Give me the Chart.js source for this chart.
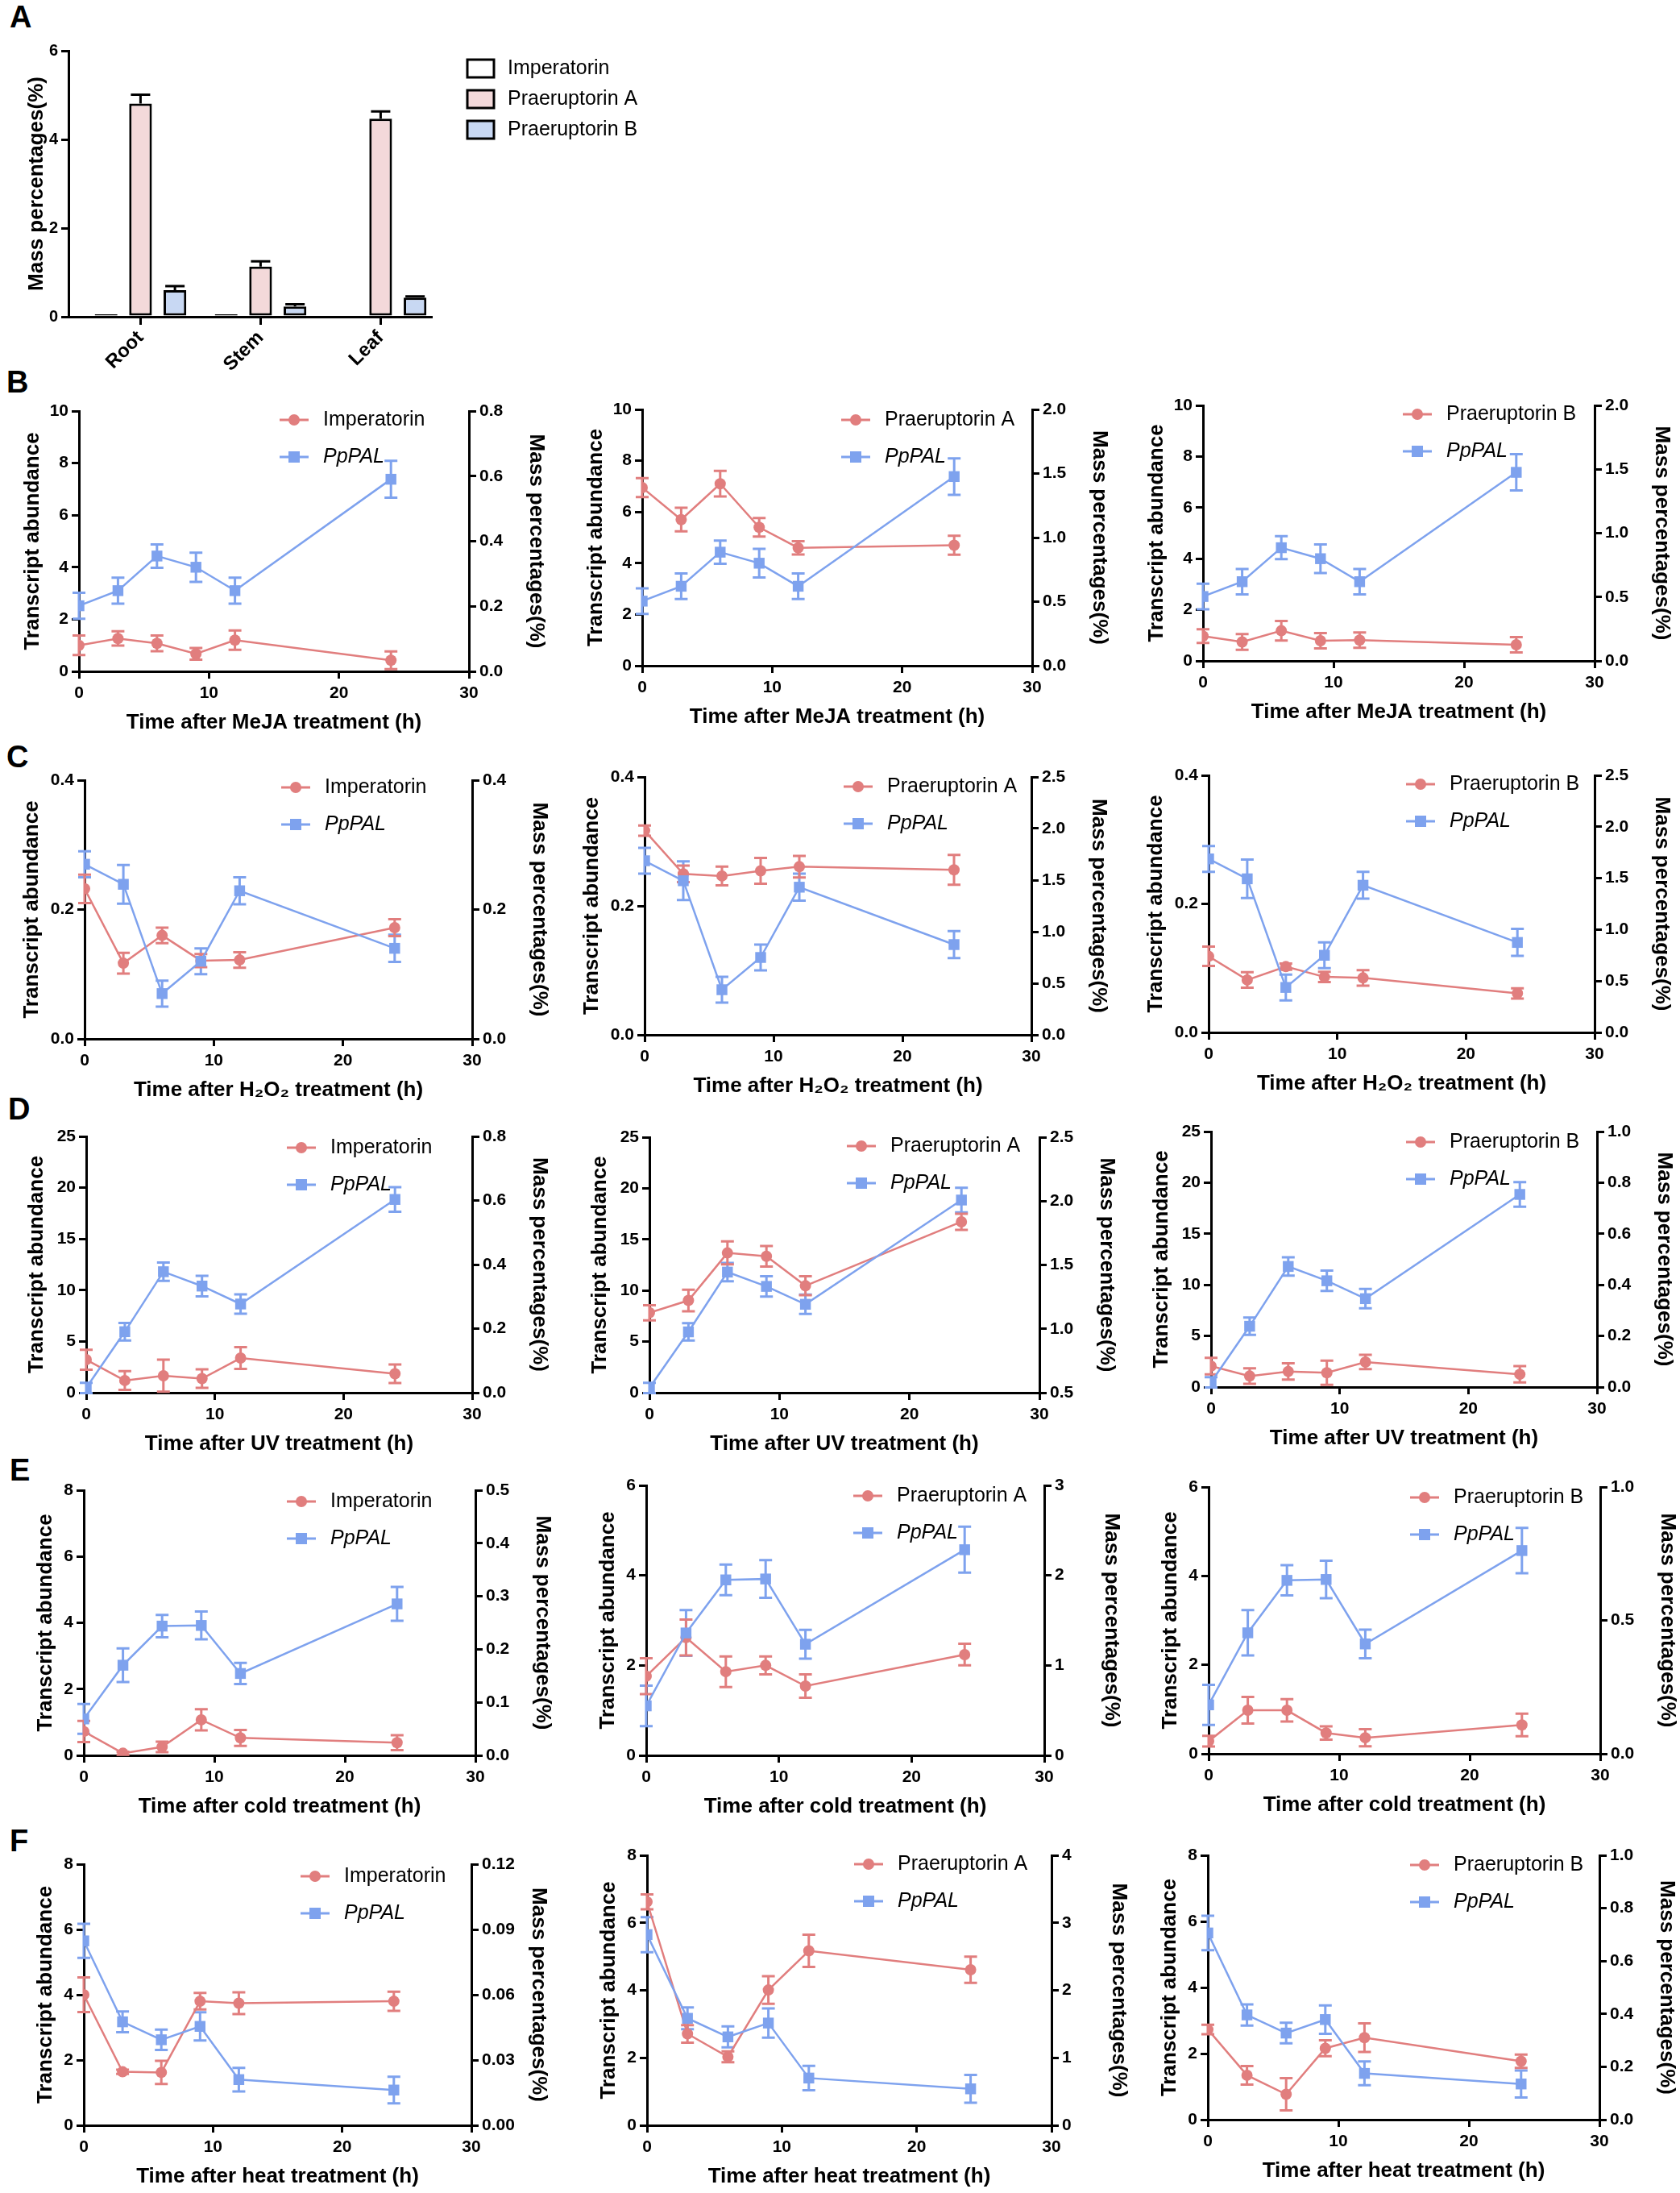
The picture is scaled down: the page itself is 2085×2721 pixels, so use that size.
<!DOCTYPE html>
<html lang="en">
<head>
<meta charset="UTF-8">
<title>Coumarin content and PpPAL expression</title>
<script src="https://cdn.jsdelivr.net/npm/chart.js"></script>
<style>
  body { margin: 0; background: #fff; }
  #page { position: relative; width: 2085px; height: 2721px; overflow: hidden; background: #fff; }
  .panel { position: absolute; }
  .tag { position: absolute; font: bold 38px "Liberation Sans", Arial, sans-serif; line-height: 1; color: #000; }
</style>
</head>
<body>
<div id="page">
  <div class="tag" style="left:12px; top:2px">A</div>
  <div class="tag" style="left:8px; top:455px">B</div>
  <div class="tag" style="left:8px; top:920px">C</div>
  <div class="tag" style="left:10px; top:1357px">D</div>
  <div class="tag" style="left:12px; top:1805px">E</div>
  <div class="tag" style="left:12px; top:2265px">F</div>
</div>

<script>
// ---- data ----
const tissues = ['Root', 'Stem', 'Leaf'];
const tissuePos = [1, 2, 3];   // group positions on the x axis
const impTissue = [0.03, 0.03, null];
const praATissue = [4.81, 1.13, 4.47];
const praBTissue = [0.60, 0.23, 0.43];
const impTissueErr = [0, 0, 0];
const praATissueErr = [0.20, 0.12, 0.16];
const praBTissueErr = [0.09, 0.05, 0.03];

// sampling times (h)
const hours = [0, 3, 6, 9, 12, 24];

// PpPAL transcript abundance (left axis)
const palMeJA = [2.52, 3.10, 4.43, 4.00, 3.10, 7.38];
const palMeJAErr = [0.50, 0.50, 0.45, 0.56, 0.50, 0.71];
const palH2O2 = [0.270, 0.239, 0.070, 0.120, 0.229, 0.140];
const palH2O2Err = [0.020, 0.030, 0.020, 0.020, 0.021, 0.021];
const palUV = [0.47, 5.95, 11.8, 10.4, 8.65, 18.85];
const palUVErr = [0.5, 0.85, 0.9, 1.0, 0.95, 1.2];
const palCold = [1.10, 2.72, 3.90, 3.92, 2.47, 4.57];
const palColdErr = [0.45, 0.51, 0.34, 0.42, 0.32, 0.51];
const palHeat = [5.65, 3.17, 2.62, 3.03, 1.40, 1.08];
const palHeatErr = [0.52, 0.32, 0.31, 0.43, 0.36, 0.41];

// mass percentages (right axis)
const impMeJA = [0.080, 0.101, 0.086, 0.054, 0.096, 0.034];
const impMeJAErr = [0.030, 0.022, 0.024, 0.018, 0.030, 0.027];
const praAMeJA = [1.39, 1.14, 1.42, 1.08, 0.92, 0.94];
const praAMeJAErr = [0.074, 0.092, 0.10, 0.072, 0.052, 0.074];
const praBMeJA = [0.194, 0.148, 0.236, 0.158, 0.162, 0.126];
const praBMeJAErr = [0.054, 0.062, 0.076, 0.06, 0.06, 0.06];

const impH2O2 = [0.232, 0.117, 0.160, 0.121, 0.122, 0.172];
const impH2O2Err = [0.022, 0.016, 0.012, 0.010, 0.012, 0.013];
const praAH2O2 = [1.98, 1.56, 1.54, 1.59, 1.63, 1.60];
const praAH2O2Err = [0.05, 0.08, 0.09, 0.125, 0.105, 0.144];
const praBH2O2 = [0.74, 0.51, 0.64, 0.54, 0.53, 0.38];
const praBH2O2Err = [0.094, 0.075, 0.03, 0.05, 0.075, 0.05];

const impUV = [0.103, 0.038, 0.053, 0.044, 0.108, 0.059];
const impUVErr = [0.031, 0.029, 0.05, 0.029, 0.034, 0.029];
const praAUV = [1.126, 1.222, 1.594, 1.568, 1.337, 1.838];
const praAUVErr = [0.059, 0.084, 0.09, 0.08, 0.074, 0.063];
const praBUV = [0.082, 0.043, 0.061, 0.056, 0.098, 0.050];
const praBUVErr = [0.032, 0.03, 0.032, 0.047, 0.028, 0.032];

const impCold = [0.045, 0.004, 0.016, 0.067, 0.033, 0.024];
const impColdErr = [0.02, 0.003, 0.01, 0.02, 0.015, 0.014];
const praACold = [0.88, 1.31, 0.93, 1.00, 0.77, 1.12];
const praAColdErr = [0.2, 0.2, 0.17, 0.1, 0.13, 0.12];
const praBCold = [0.047, 0.163, 0.163, 0.078, 0.060, 0.108];
const praBColdErr = [0.02, 0.05, 0.042, 0.025, 0.032, 0.042];

const impHeat = [0.060, 0.0246, 0.0243, 0.057, 0.0561, 0.057];
const impHeatErr = [0.008, 0.001, 0.0053, 0.0038, 0.005, 0.0044];
const praAHeat = [3.31, 1.355, 1.015, 2.005, 2.585, 2.305];
const praAHeatErr = [0.11, 0.13, 0.08, 0.205, 0.24, 0.195];
const praBHeat = [0.341, 0.168, 0.096, 0.270, 0.310, 0.221];
const praBHeatErr = [0.018, 0.035, 0.061, 0.03, 0.054, 0.025];

// ---- drawing ----
Chart.defaults.font.family = '"Liberation Sans", Arial, sans-serif';
Chart.defaults.color = '#000';
Chart.defaults.animation = false;

const RED = '#E17E7E';
const BLUE = '#7EA2EE';
const page = document.getElementById('page');

// error bars drawn from the dataset's own scale
const errorBars = {
  id: 'errorBars',
  beforeDatasetsDraw(chart) {
    const ctx = chart.ctx;
    chart.data.datasets.forEach((ds, i) => {
      if (!ds.errors) return;
      const meta = chart.getDatasetMeta(i);
      const ys = chart.scales[meta.yAxisID];
      ctx.save();
      ctx.strokeStyle = ds.errColor || ds.borderColor;
      ctx.lineWidth = 3;
      meta.data.forEach((el, j) => {
        const e = ds.errors[j];
        if (!e) return;
        const raw = ds.data[j];
        const v = typeof raw === 'number' ? raw : raw.y;
        const top = ys.getPixelForValue(v + e);
        const bot = ds.upOnly ? ys.getPixelForValue(v) : ys.getPixelForValue(v - e);
        const half = ds.capHalf || 8;
        ctx.beginPath();
        ctx.moveTo(el.x, top); ctx.lineTo(el.x, bot);
        ctx.moveTo(el.x - half, top); ctx.lineTo(el.x + half, top);
        if (!ds.upOnly) { ctx.moveTo(el.x - half, bot); ctx.lineTo(el.x + half, bot); }
        ctx.stroke();
      });
      ctx.restore();
    });
  }
};

// small legend placed inside the plot, like the original figure
const cornerLegend = {
  id: 'cornerLegend',
  afterDraw(chart, args, opts) {
    if (!opts.items) return;
    const { ctx, chartArea } = chart;
    opts.items.forEach((it, k) => {
      const x0 = chartArea.left + opts.x;
      const y = chartArea.top + opts.y + k * opts.gap;
      ctx.save();
      if (it.box) {
        ctx.fillStyle = it.color;
        ctx.strokeStyle = '#000';
        ctx.lineWidth = 3;
        ctx.fillRect(x0, y - 11, 33, 22);
        ctx.strokeRect(x0, y - 11, 33, 22);
      } else {
        ctx.strokeStyle = it.color;
        ctx.fillStyle = it.color;
        ctx.lineWidth = 3;
        ctx.beginPath();
        ctx.moveTo(x0, y); ctx.lineTo(x0 + 36, y);
        ctx.stroke();
        ctx.beginPath();
        if (it.style === 'rect') ctx.rect(x0 + 18 - 7, y - 7, 14, 14);
        else ctx.arc(x0 + 18, y, 7, 0, Math.PI * 2);
        ctx.fill();
      }
      ctx.fillStyle = '#000';
      ctx.textBaseline = 'middle';
      ctx.font = (it.italic ? 'italic ' : '') + '25px "Liberation Sans", Arial, sans-serif';
      ctx.fillText(it.text, x0 + opts.textDx, y);
      ctx.restore();
    });
  }
};

function axisLook() {
  return {
    grid: { drawOnChartArea: false, color: '#000', lineWidth: 3, tickLength: 9 },
    border: { color: '#000', width: 3 }
  };
}

function yAxis(pos, r, title, width, tickSize) {
  return Object.assign(axisLook(), {
    type: 'linear', position: pos, min: r[0], max: r[1],
    ticks: { stepSize: r[2], font: { size: tickSize || 21, weight: 'bold' }, padding: 4,
             callback: v => Number(v).toFixed(r[3]) },
    title: { display: true, text: title, font: { size: 26, weight: 'bold' }, padding: 0 },
    afterFit: s => { s.width = width; }
  });
}

const TOP_PAD = 25, RIGHT_W = 99, BOTTOM_H = 79;

function linePanel(p) {
  const W = (p.R - p.L) + p.wl + RIGHT_W;
  const H = (p.B - p.T) + TOP_PAD + BOTTOM_H;
  const canvas = document.createElement('canvas');
  canvas.width = W; canvas.height = H;
  canvas.className = 'panel';
  canvas.style.left = (p.L - p.wl) + 'px';
  canvas.style.top = (p.T - TOP_PAD) + 'px';
  canvas.style.width = W + 'px';
  canvas.style.height = H + 'px';
  page.appendChild(canvas);

  const pts = arr => hours.map((h, i) => ({ x: h, y: arr[i] }));

  new Chart(canvas, {
    type: 'line',
    data: {
      datasets: [
        { label: 'PpPAL', data: pts(p.pal), errors: p.palErr, yAxisID: 'y',
          borderColor: BLUE, backgroundColor: BLUE, pointStyle: 'rect', pointRadius: 9.5,
          pointBorderWidth: 0, borderWidth: 2.5, tension: 0 },
        { label: p.name, data: pts(p.red), errors: p.redErr, yAxisID: 'y2',
          borderColor: RED, backgroundColor: RED, pointStyle: 'circle', pointRadius: 7,
          pointBorderWidth: 0, borderWidth: 2.5, tension: 0 }
      ]
    },
    options: {
      responsive: false,
      animation: false,
      layout: { padding: { top: TOP_PAD, left: 0, right: 0, bottom: 0 } },
      plugins: {
        legend: { display: false },
        tooltip: { enabled: false },
        cornerLegend: {
          x: p.lx, y: p.ly, gap: 46, textDx: 54,
          items: [
            { text: p.name, color: RED, style: 'circle' },
            { text: 'PpPAL', color: BLUE, style: 'rect', italic: true }
          ]
        }
      },
      scales: {
        x: Object.assign(axisLook(), {
          type: 'linear', min: 0, max: 30,
          ticks: { stepSize: 10, font: { size: 21, weight: 'bold' }, padding: 6 },
          title: { display: true, text: p.xTitle, font: { size: 26, weight: 'bold' }, padding: 0 },
          afterFit: s => { s.height = BOTTOM_H; }
        }),
        y: yAxis('left', p.left, 'Transcript abundance', p.wl),
        y2: yAxis('right', p.right, 'Mass percentages(%)', RIGHT_W)
      }
    },
    plugins: [errorBars, cornerLegend]
  });
}

// ---- panel A: bar chart ----
(function () {
  const L = 85, R = 535, T = 63, B = 393, WL = 55, right = 820, HB = 95, PT = 25;
  const W = right - (L - WL), H = (B - T) + PT + HB;
  const canvas = document.createElement('canvas');
  canvas.width = W; canvas.height = H;
  canvas.className = 'panel';
  canvas.style.left = (L - WL) + 'px';
  canvas.style.top = (T - PT) + 'px';
  canvas.style.width = W + 'px';
  canvas.style.height = H + 'px';
  page.appendChild(canvas);

  const barDs = (label, vals, errors, fill) => ({
    label, data: tissuePos.map((x, i) => ({ x, y: vals[i] })), errors,
    upOnly: true, errColor: '#000', capHalf: 12, minBarLength: 3,
    backgroundColor: fill, borderColor: '#000', borderWidth: 3, borderSkipped: false
  });

  new Chart(canvas, {
    type: 'bar',
    data: {
      datasets: [
        barDs('Imperatorin', impTissue, impTissueErr, '#FFFFFF'),
        barDs('Praeruptorin A', praATissue, praATissueErr, '#F3D9DA'),
        barDs('Praeruptorin B', praBTissue, praBTissueErr, '#C8D8F3')
      ]
    },
    options: {
      responsive: false,
      animation: false,
      categoryPercentage: 0.86,
      barPercentage: 0.66,
      layout: { padding: { top: PT, left: 0, right: right - R, bottom: 0 } },
      plugins: {
        legend: { display: false },
        tooltip: { enabled: false },
        cornerLegend: {
          x: 495, y: 22, gap: 38, textDx: 50,
          items: [
            { text: 'Imperatorin', color: '#FFFFFF', box: true },
            { text: 'Praeruptorin A', color: '#F3D9DA', box: true },
            { text: 'Praeruptorin B', color: '#C8D8F3', box: true }
          ]
        }
      },
      scales: {
        x: Object.assign(axisLook(), {
          type: 'linear', min: 0.4, max: 3.42, offset: false,
          grid: { drawOnChartArea: false, color: '#000', lineWidth: 3, tickLength: 10, offset: false },
          afterBuildTicks: s => { s.ticks = tissuePos.map(v => ({ value: v })); },
          ticks: { font: { size: 24, weight: 'bold' }, minRotation: 45, maxRotation: 45, padding: 2,
                   callback: v => tissues[tissuePos.indexOf(v)] || '' },
          afterFit: s => { s.height = HB; }
        }),
        y: yAxis('left', [0, 6, 2, 0], 'Mass percentages(%)', WL, 20)
      }
    },
    plugins: [errorBars, cornerLegend]
  });
})();

// ---- panels B-F ----
const xMeJA = 'Time after MeJA treatment (h)';
const xH2O2 = 'Time after H\u2082O\u2082 treatment (h)';
const xUV = 'Time after UV treatment (h)';
const xCold = 'Time after cold treatment (h)';
const xHeat = 'Time after heat treatment (h)';

const panels = [
  // B: MeJA
  { L: 98, R: 582, T: 510, B: 833, wl: 73, pal: palMeJA, palErr: palMeJAErr, red: impMeJA, redErr: impMeJAErr,
    name: 'Imperatorin', left: [0, 10, 2, 0], right: [0, 0.8, 0.2, 1], xTitle: xMeJA, lx: 249, ly: 11 },
  { L: 797, R: 1281, T: 508, B: 826, wl: 73, pal: palMeJA, palErr: palMeJAErr, red: praAMeJA, redErr: praAMeJAErr,
    name: 'Praeruptorin A', left: [0, 10, 2, 0], right: [0, 2, 0.5, 1], xTitle: xMeJA, lx: 247, ly: 13 },
  { L: 1493, R: 1979, T: 503, B: 820, wl: 73, pal: palMeJA, palErr: palMeJAErr, red: praBMeJA, redErr: praBMeJAErr,
    name: 'Praeruptorin B', left: [0, 10, 2, 0], right: [0, 2, 0.5, 1], xTitle: xMeJA, lx: 248, ly: 11 },
  // C: H2O2
  { L: 105, R: 586, T: 968, B: 1289, wl: 81, pal: palH2O2, palErr: palH2O2Err, red: impH2O2, redErr: impH2O2Err,
    name: 'Imperatorin', left: [0, 0.4, 0.2, 1], right: [0, 0.4, 0.2, 1], xTitle: xH2O2, lx: 244, ly: 9 },
  { L: 800, R: 1280, T: 964, B: 1284, wl: 81, pal: palH2O2, palErr: palH2O2Err, red: praAH2O2, redErr: praAH2O2Err,
    name: 'Praeruptorin A', left: [0, 0.4, 0.2, 1], right: [0, 2.5, 0.5, 1], xTitle: xH2O2, lx: 247, ly: 12 },
  { L: 1500, R: 1979, T: 962, B: 1281, wl: 81, pal: palH2O2, palErr: palH2O2Err, red: praBH2O2, redErr: praBH2O2Err,
    name: 'Praeruptorin B', left: [0, 0.4, 0.2, 1], right: [0, 2.5, 0.5, 1], xTitle: xH2O2, lx: 245, ly: 11 },
  // D: UV
  { L: 107, R: 586, T: 1410, B: 1728, wl: 77, pal: palUV, palErr: palUVErr, red: impUV, redErr: impUVErr,
    name: 'Imperatorin', left: [0, 25, 5, 0], right: [0, 0.8, 0.2, 1], xTitle: xUV, lx: 249, ly: 14 },
  { L: 806, R: 1290, T: 1411, B: 1728, wl: 77, pal: palUV, palErr: palUVErr, red: praAUV, redErr: praAUVErr,
    name: 'Praeruptorin A', left: [0, 25, 5, 0], right: [0.5, 2.5, 0.5, 1], xTitle: xUV, lx: 245, ly: 11 },
  { L: 1503, R: 1982, T: 1404, B: 1721, wl: 77, pal: palUV, palErr: palUVErr, red: praBUV, redErr: praBUVErr,
    name: 'Praeruptorin B', left: [0, 25, 5, 0], right: [0, 1, 0.2, 1], xTitle: xUV, lx: 242, ly: 13 },
  // E: cold
  { L: 104, R: 590, T: 1849, B: 2178, wl: 63, pal: palCold, palErr: palColdErr, red: impCold, redErr: impColdErr,
    name: 'Imperatorin', left: [0, 8, 2, 0], right: [0, 0.5, 0.1, 1], xTitle: xCold, lx: 252, ly: 14 },
  { L: 802, R: 1296, T: 1843, B: 2178, wl: 63, pal: palCold, palErr: palColdErr, red: praACold, redErr: praAColdErr,
    name: 'Praeruptorin A', left: [0, 6, 2, 0], right: [0, 3, 1, 0], xTitle: xCold, lx: 257, ly: 13 },
  { L: 1500, R: 1986, T: 1845, B: 2176, wl: 63, pal: palCold, palErr: palColdErr, red: praBCold, redErr: praBColdErr,
    name: 'Praeruptorin B', left: [0, 6, 2, 0], right: [0, 1, 0.5, 1], xTitle: xCold, lx: 250, ly: 13 },
  // F: heat
  { L: 104, R: 585, T: 2313, B: 2637, wl: 63, pal: palHeat, palErr: palHeatErr, red: impHeat, redErr: impHeatErr,
    name: 'Imperatorin', left: [0, 8, 2, 0], right: [0, 0.12, 0.03, 2], xTitle: xHeat, lx: 269, ly: 15 },
  { L: 803, R: 1305, T: 2302, B: 2637, wl: 63, pal: palHeat, palErr: palHeatErr, red: praAHeat, redErr: praAHeatErr,
    name: 'Praeruptorin A', left: [0, 8, 2, 0], right: [0, 4, 1, 0], xTitle: xHeat, lx: 257, ly: 11 },
  { L: 1499, R: 1985, T: 2302, B: 2630, wl: 63, pal: palHeat, palErr: palHeatErr, red: praBHeat, redErr: praBHeatErr,
    name: 'Praeruptorin B', left: [0, 8, 2, 0], right: [0, 1, 0.2, 1], xTitle: xHeat, lx: 251, ly: 12 }
];

panels.forEach(linePanel);
</script>
</body>
</html>
